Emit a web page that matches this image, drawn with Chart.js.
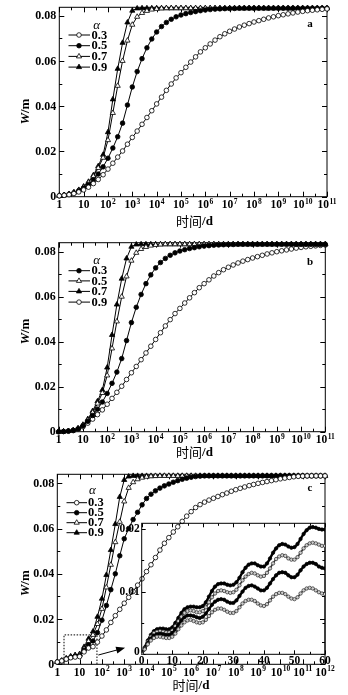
<!DOCTYPE html>
<html>
<head>
<meta charset="utf-8">
<script src="https://cdn.jsdelivr.net/npm/chart.js@4.4.1/dist/chart.umd.min.js"></script>
<style>
  html, body { margin: 0; padding: 0; background: #fff; }
  #fig { position: relative; width: 348px; height: 695px; overflow: hidden; background: #fff; }
  #fig canvas { position: absolute; }
</style>
</head>
<body>
<div id="fig">
  <canvas id="panelA" width="348" height="230" style="left:0;top:0"></canvas>
  <canvas id="panelB" width="348" height="230" style="left:0;top:230px"></canvas>
  <canvas id="panelC" width="348" height="235" style="left:0;top:460px"></canvas>
  <canvas id="inset" width="248" height="155" style="left:100px;top:515px"></canvas>
</div>
<script>
// W(t) curves sampled every 0.2 decade of time (t = 1 d ... 10^11 d, or 10^12 d for panel c)
const aW03 = [0.0004,0.0006,0.0009,0.0014,0.0021,0.0030,0.0042,0.0058,0.0076,0.0097,
  0.0122,0.0148,0.0175,0.0202,0.0232,0.0262,0.0290,0.0320,0.0350,0.0380,
  0.0410,0.0440,0.0470,0.0498,0.0525,0.0548,0.0572,0.0595,0.0618,0.0640,
  0.0658,0.0675,0.0692,0.0707,0.0720,0.0731,0.0741,0.0750,0.0758,0.0765,
  0.0772,0.0778,0.0784,0.0790,0.0795,0.0800,0.0804,0.0808,0.0812,0.0816,
  0.0819,0.0822,0.0824,0.0826,0.0828,0.0830];
const aW05 = [0.0004,0.0007,0.0011,0.0017,0.0026,0.0038,0.0054,0.0075,0.0100,0.0132,
  0.0170,0.0215,0.0265,0.0325,0.0405,0.0485,0.0553,0.0610,0.0658,0.0697,
  0.0728,0.0752,0.0770,0.0784,0.0795,0.0803,0.0809,0.0814,0.0818,0.0822,
  0.0825,0.0827,0.0829,0.0830,0.0831,0.0832,0.0832,0.0833,0.0833,0.0833,
  0.0833,0.0833,0.0833,0.0833,0.0833,0.0833,0.0833,0.0833,0.0833,0.0833,
  0.0833,0.0833,0.0833,0.0833,0.0833,0.0833];
const aW07 = [0.0004,0.0007,0.0012,0.0019,0.0029,0.0043,0.0063,0.0090,0.0127,0.0172,
  0.0250,0.0370,0.0490,0.0600,0.0690,0.0760,0.0795,0.0812,0.0821,0.0827,
  0.0830,0.0832,0.0833,0.0833,0.0833,0.0833,0.0833,0.0833,0.0833,0.0833,
  0.0833,0.0833,0.0833,0.0833,0.0833,0.0833,0.0833,0.0833,0.0833,0.0833,
  0.0833,0.0833,0.0833,0.0833,0.0833,0.0833,0.0833,0.0833,0.0833,0.0833,
  0.0833,0.0833,0.0833,0.0833,0.0833,0.0833];
const aW09 = [0.0004,0.0007,0.0012,0.0019,0.0030,0.0045,0.0066,0.0095,0.0135,0.0185,
  0.0285,0.0430,0.0565,0.0680,0.0770,0.0822,0.0832,0.0833,0.0833,0.0833,
  0.0833,0.0833,0.0833,0.0833,0.0833,0.0833,0.0833,0.0833,0.0833,0.0833,
  0.0833,0.0833,0.0833,0.0833,0.0833,0.0833,0.0833,0.0833,0.0833,0.0833,
  0.0833,0.0833,0.0833,0.0833,0.0833,0.0833,0.0833,0.0833,0.0833,0.0833,
  0.0833,0.0833,0.0833,0.0833,0.0833,0.0833];

const bW09 = [0.0000,0.0001,0.0002,0.0005,0.0011,0.0022,0.0038,0.0056,0.0076,0.0097,
  0.0122,0.0148,0.0175,0.0202,0.0232,0.0262,0.0290,0.0320,0.0350,0.0380,
  0.0410,0.0440,0.0470,0.0498,0.0525,0.0548,0.0572,0.0595,0.0618,0.0640,
  0.0658,0.0675,0.0692,0.0707,0.0720,0.0731,0.0741,0.0750,0.0758,0.0765,
  0.0772,0.0778,0.0784,0.0790,0.0795,0.0800,0.0804,0.0808,0.0812,0.0816,
  0.0819,0.0822,0.0824,0.0826,0.0828,0.0830];
const bW03 = [0.0000,0.0001,0.0003,0.0006,0.0013,0.0026,0.0046,0.0072,0.0100,0.0132,
  0.0170,0.0215,0.0265,0.0325,0.0405,0.0485,0.0553,0.0610,0.0658,0.0697,
  0.0728,0.0752,0.0770,0.0784,0.0795,0.0803,0.0809,0.0814,0.0818,0.0822,
  0.0825,0.0827,0.0829,0.0830,0.0831,0.0832,0.0832,0.0833,0.0833,0.0833,
  0.0833,0.0833,0.0833,0.0833,0.0833,0.0833,0.0833,0.0833,0.0833,0.0833,
  0.0833,0.0833,0.0833,0.0833,0.0833,0.0833];
const bW05 = [0.0000,0.0001,0.0003,0.0006,0.0014,0.0029,0.0052,0.0085,0.0125,0.0172,
  0.0250,0.0370,0.0490,0.0600,0.0690,0.0760,0.0795,0.0812,0.0821,0.0827,
  0.0830,0.0832,0.0833,0.0833,0.0833,0.0833,0.0833,0.0833,0.0833,0.0833,
  0.0833,0.0833,0.0833,0.0833,0.0833,0.0833,0.0833,0.0833,0.0833,0.0833,
  0.0833,0.0833,0.0833,0.0833,0.0833,0.0833,0.0833,0.0833,0.0833,0.0833,
  0.0833,0.0833,0.0833,0.0833,0.0833,0.0833];
const bW07 = [0.0000,0.0001,0.0003,0.0007,0.0015,0.0031,0.0056,0.0092,0.0135,0.0185,
  0.0285,0.0430,0.0565,0.0680,0.0770,0.0822,0.0832,0.0833,0.0833,0.0833,
  0.0833,0.0833,0.0833,0.0833,0.0833,0.0833,0.0833,0.0833,0.0833,0.0833,
  0.0833,0.0833,0.0833,0.0833,0.0833,0.0833,0.0833,0.0833,0.0833,0.0833,
  0.0833,0.0833,0.0833,0.0833,0.0833,0.0833,0.0833,0.0833,0.0833,0.0833,
  0.0833,0.0833,0.0833,0.0833,0.0833,0.0833];

const cW03 = [0.0010,0.0015,0.0023,0.0029,0.0032,0.0034,0.0055,0.0072,0.0078,0.0098,
  0.0125,0.0152,0.0185,0.0215,0.0243,0.0270,0.0296,0.0322,0.0350,0.0378,
  0.0410,0.0440,0.0472,0.0505,0.0535,0.0560,0.0585,0.0608,0.0632,0.0655,
  0.0675,0.0693,0.0706,0.0717,0.0726,0.0734,0.0742,0.0750,0.0757,0.0765,
  0.0772,0.0778,0.0784,0.0790,0.0795,0.0800,0.0804,0.0808,0.0812,0.0816,
  0.0820,0.0823,0.0826,0.0829,0.0831,0.0832,0.0833,0.0833,0.0833,0.0833,0.0833];
const cW05 = [0.0010,0.0015,0.0024,0.0031,0.0035,0.0038,0.0062,0.0086,0.0103,0.0140,
  0.0195,0.0260,0.0330,0.0400,0.0480,0.0555,0.0600,0.0640,0.0672,0.0705,
  0.0733,0.0752,0.0767,0.0779,0.0789,0.0797,0.0805,0.0812,0.0818,0.0823,
  0.0827,0.0830,0.0832,0.0833,0.0833,0.0833,0.0833,0.0833,0.0833,0.0833,
  0.0833,0.0833,0.0833,0.0833,0.0833,0.0833,0.0833,0.0833,0.0833,0.0833,
  0.0833,0.0833,0.0833,0.0833,0.0833,0.0833,0.0833,0.0833,0.0833,0.0833,0.0833];
const cW07 = [0.0010,0.0016,0.0025,0.0033,0.0038,0.0042,0.0069,0.0102,0.0130,0.0178,
  0.0245,0.0340,0.0440,0.0540,0.0630,0.0720,0.0780,0.0805,0.0818,0.0825,
  0.0829,0.0831,0.0832,0.0833,0.0833,0.0833,0.0833,0.0833,0.0833,0.0833,
  0.0833,0.0833,0.0833,0.0833,0.0833,0.0833,0.0833,0.0833,0.0833,0.0833,
  0.0833,0.0833,0.0833,0.0833,0.0833,0.0833,0.0833,0.0833,0.0833,0.0833,
  0.0833,0.0833,0.0833,0.0833,0.0833,0.0833,0.0833,0.0833,0.0833,0.0833,0.0833];
const cW09 = [0.0010,0.0016,0.0026,0.0035,0.0041,0.0045,0.0077,0.0113,0.0145,0.0210,
  0.0290,0.0395,0.0505,0.0620,0.0740,0.0815,0.0830,0.0833,0.0833,0.0833,
  0.0833,0.0833,0.0833,0.0833,0.0833,0.0833,0.0833,0.0833,0.0833,0.0833,
  0.0833,0.0833,0.0833,0.0833,0.0833,0.0833,0.0833,0.0833,0.0833,0.0833,
  0.0833,0.0833,0.0833,0.0833,0.0833,0.0833,0.0833,0.0833,0.0833,0.0833,
  0.0833,0.0833,0.0833,0.0833,0.0833,0.0833,0.0833,0.0833,0.0833,0.0833,0.0833];

// early-time detail for panel c, t = 0 ... 60 d in 1 d steps
const insetW09 = [0,0.0011,0.0022,0.0031,0.0037,0.0040,0.0041,0.0041,0.0040,0.0040,
  0.0043,0.0050,0.0058,0.0066,0.0072,0.0075,0.0076,0.0076,0.0075,0.0075,
  0.0077,0.0083,0.0092,0.0101,0.0108,0.0112,0.0113,0.0113,0.0111,0.0110,
  0.0111,0.0115,0.0122,0.0131,0.0138,0.0143,0.0145,0.0145,0.0142,0.0140,
  0.0140,0.0145,0.0153,0.0162,0.0169,0.0174,0.0176,0.0175,0.0172,0.0170,
  0.0171,0.0176,0.0184,0.0192,0.0198,0.0202,0.0203,0.0202,0.0200,0.0199,0.0199];
const insetW07 = [0,0.0010,0.0020,0.0028,0.0034,0.0036,0.0037,0.0036,0.0035,0.0035,
  0.0038,0.0045,0.0053,0.0060,0.0066,0.0069,0.0070,0.0069,0.0067,0.0067,
  0.0069,0.0075,0.0083,0.0091,0.0097,0.0101,0.0102,0.0101,0.0099,0.0098,
  0.0099,0.0103,0.0110,0.0118,0.0124,0.0128,0.0130,0.0129,0.0126,0.0124,
  0.0125,0.0130,0.0137,0.0145,0.0152,0.0156,0.0158,0.0157,0.0153,0.0151,
  0.0151,0.0155,0.0162,0.0169,0.0174,0.0177,0.0178,0.0177,0.0175,0.0173,0.0173];
const insetW05 = [0,0.0009,0.0018,0.0025,0.0030,0.0032,0.0033,0.0032,0.0031,0.0031,
  0.0034,0.0040,0.0047,0.0054,0.0059,0.0062,0.0062,0.0061,0.0059,0.0058,
  0.0060,0.0065,0.0072,0.0079,0.0084,0.0087,0.0088,0.0087,0.0084,0.0082,
  0.0082,0.0086,0.0093,0.0100,0.0106,0.0109,0.0110,0.0108,0.0105,0.0102,
  0.0102,0.0106,0.0113,0.0120,0.0126,0.0130,0.0131,0.0130,0.0126,0.0123,
  0.0123,0.0127,0.0134,0.0140,0.0144,0.0146,0.0146,0.0144,0.0140,0.0138,0.0137];
const insetW03 = [0,0.0008,0.0016,0.0022,0.0026,0.0028,0.0028,0.0027,0.0026,0.0026,
  0.0028,0.0033,0.0040,0.0046,0.0051,0.0054,0.0055,0.0053,0.0051,0.0050,
  0.0051,0.0055,0.0061,0.0067,0.0071,0.0073,0.0073,0.0071,0.0068,0.0066,
  0.0066,0.0069,0.0075,0.0081,0.0085,0.0087,0.0087,0.0085,0.0081,0.0078,
  0.0077,0.0080,0.0086,0.0092,0.0096,0.0098,0.0098,0.0096,0.0092,0.0089,
  0.0088,0.0091,0.0097,0.0102,0.0105,0.0106,0.0105,0.0102,0.0099,0.0097,0.0096];

// axis ticks and labels
const decadesAB = [0,1,2,3,4,5,6,7,8,9,10,11];
const decadesC = [0,1,2,3,4,5,6,7,8,9,10,11,12];
const yTickVals = [0, 0.02, 0.04, 0.06, 0.08];
const yTickText = ['0', '0.02', '0.04', '0.06', '0.08'];
const yMinorVals = [0.01, 0.03, 0.05, 0.07];
const insetXVals = [0, 10, 20, 30, 40, 50, 60];
const insetXText = ['0', '10', '20', '30', '40', '50', '60'];
const insetYVals = [0, 0.01, 0.02];
const insetYText = ['0', '0.01', '0.02'];
const alphaText = ['0.3', '0.5', '0.7', '0.9'];

const SERIF = '"Liberation Serif", "DejaVu Serif", serif';
const CJK = '"Noto Sans CJK SC", "Noto Sans CJK JP", sans-serif';
const OPEN_CIRCLE = { shape: 'circle', filled: false };
const FILLED_CIRCLE = { shape: 'circle', filled: true };
const OPEN_TRI = { shape: 'triangle', filled: false };
const FILLED_TRI = { shape: 'triangle', filled: true };

function logSeries(label, ys, mark) {
  return {
    label,
    data: ys.map((v, i) => ({ x: i * 0.2, y: v })),
    borderColor: '#000',
    borderWidth: 1,
    pointStyle: mark.shape,
    pointRadius: mark.shape === 'triangle' ? 3 : 2.3,
    pointBorderWidth: 0.8,
    pointBackgroundColor: mark.filled ? '#000' : '#fff',
    pointBorderColor: '#000',
    tension: 0,
    clip: false
  };
}

function drawPower(ctx, k, cx, top) {
  const base = k === 0 ? '1' : '10';
  const sup = k >= 2 ? String(k) : '';
  ctx.font = 'bold 11.5px ' + SERIF;
  const wb = ctx.measureText(base).width;
  ctx.font = 'bold 7.5px ' + SERIF;
  const ws = sup ? ctx.measureText(sup).width + 0.5 : 0;
  const x0 = cx - (wb + ws) / 2;
  const baseY = top + 8.5;
  ctx.textAlign = 'left';
  ctx.textBaseline = 'alphabetic';
  ctx.font = 'bold 11.5px ' + SERIF;
  ctx.fillText(base, x0, baseY);
  if (sup) {
    ctx.font = 'bold 7.5px ' + SERIF;
    ctx.fillText(sup, x0 + wb + 0.5, baseY - 4.5);
  }
}

function drawTicks(ctx, a, sx, sy, xt, yt) {
  ctx.beginPath();
  for (const [v, len] of xt) {
    const px = Math.round(sx.getPixelForValue(v)) + 0.5;
    ctx.moveTo(px, a.bottom); ctx.lineTo(px, a.bottom - len);
    ctx.moveTo(px, a.top); ctx.lineTo(px, a.top + len);
  }
  for (const [v, len] of yt) {
    const py = Math.round(sy.getPixelForValue(v)) + 0.5;
    ctx.moveTo(a.left, py); ctx.lineTo(a.left + len, py);
    ctx.moveTo(a.right, py); ctx.lineTo(a.right - len, py);
  }
  ctx.stroke();
}

// frame, inward ticks, labels, legend and panel letter for a main panel
function makeDecor(cfg) {
  return {
    id: 'decor',
    beforeDatasetsDraw(chart) {
      const { ctx, chartArea: a } = chart;
      const sx = chart.scales.x, sy = chart.scales.y;
      ctx.save();
      ctx.strokeStyle = '#000';
      ctx.lineWidth = 1;
      ctx.strokeRect(a.left, a.top, a.right - a.left, a.bottom - a.top);
      const xt = cfg.decades.map(d => [d, 5]).concat(cfg.decades.slice(1).map(d => [d - 0.5, 3]));
      const yt = yTickVals.map(v => [v, 5]).concat(yMinorVals.map(v => [v, 3]));
      drawTicks(ctx, a, sx, sy, xt, yt);
      if (cfg.box) {
        ctx.setLineDash([1.5, 1.5]);
        const x0 = sx.getPixelForValue(cfg.box.x0), x1 = sx.getPixelForValue(cfg.box.x1);
        const y1 = sy.getPixelForValue(cfg.box.y1), yb = sy.getPixelForValue(0);
        ctx.beginPath();
        ctx.moveTo(x0, yb); ctx.lineTo(x0, y1); ctx.lineTo(x1, y1); ctx.lineTo(x1, yb);
        ctx.stroke();
        ctx.setLineDash([]);
        const p0 = [sx.getPixelForValue(cfg.arrow.from[0]), sy.getPixelForValue(cfg.arrow.from[1])];
        const p1 = [sx.getPixelForValue(cfg.arrow.to[0]), sy.getPixelForValue(cfg.arrow.to[1])];
        const ang = Math.atan2(p1[1] - p0[1], p1[0] - p0[0]);
        ctx.beginPath();
        ctx.moveTo(p0[0], p0[1]); ctx.lineTo(p1[0] - 7 * Math.cos(ang), p1[1] - 7 * Math.sin(ang));
        ctx.stroke();
        ctx.beginPath();
        ctx.moveTo(p1[0], p1[1]);
        ctx.lineTo(p1[0] - 9 * Math.cos(ang) + 3.5 * Math.sin(ang), p1[1] - 9 * Math.sin(ang) - 3.5 * Math.cos(ang));
        ctx.lineTo(p1[0] - 9 * Math.cos(ang) - 3.5 * Math.sin(ang), p1[1] - 9 * Math.sin(ang) + 3.5 * Math.cos(ang));
        ctx.closePath();
        ctx.fillStyle = '#000';
        ctx.fill();
      }
      ctx.restore();
    },
    afterDatasetsDraw(chart) {
      const { ctx, chartArea: a } = chart;
      const sx = chart.scales.x, sy = chart.scales.y;
      ctx.save();
      ctx.fillStyle = '#000';
      // y tick labels
      ctx.font = 'bold 12px ' + SERIF;
      ctx.textAlign = 'right';
      ctx.textBaseline = 'middle';
      yTickVals.forEach((v, i) => ctx.fillText(yTickText[i], a.left - 3, sy.getPixelForValue(v) + 0.5));
      // x tick labels, powers of ten
      cfg.decades.forEach(d => drawPower(ctx, d, sx.getPixelForValue(d), a.bottom + 3));
      // axis titles
      ctx.textBaseline = 'middle';
      ctx.textAlign = 'left';
      ctx.font = '13px ' + CJK;
      const wCjk = ctx.measureText('时间').width;
      ctx.font = 'bold 13px ' + SERIF;
      const wUnit = ctx.measureText('/d').width;
      const tx = cfg.xTitle[0] - (wCjk + wUnit) / 2;
      ctx.font = '13px ' + CJK;
      ctx.fillText('时间', tx, cfg.xTitle[1]);
      ctx.font = 'bold 13px ' + SERIF;
      ctx.fillText('/d', tx + wCjk, cfg.xTitle[1] + 0.5);
      ctx.save();
      ctx.translate(cfg.yTitle[0], cfg.yTitle[1]);
      ctx.rotate(-Math.PI / 2);
      ctx.font = 'italic bold 13px ' + SERIF;
      ctx.textAlign = 'right';
      ctx.fillText('W', -3, 0);
      ctx.font = 'bold 13px ' + SERIF;
      ctx.textAlign = 'left';
      ctx.fillText('/m', -3, 0);
      ctx.restore();
      // panel letter
      ctx.font = 'bold 11px ' + SERIF;
      ctx.textAlign = 'center';
      ctx.fillText(cfg.letter, cfg.letterAt[0], cfg.letterAt[1]);
      // legend
      const lg = cfg.legend;
      ctx.font = 'italic 13px ' + SERIF;
      ctx.fillText('α', lg.alpha[0], lg.alpha[1]);
      ctx.font = 'bold 12.5px ' + SERIF;
      ctx.textAlign = 'left';
      chart.data.datasets.forEach((ds, i) => {
        const y = lg.rows[i];
        ctx.strokeStyle = '#000';
        ctx.lineWidth = 1;
        ctx.beginPath();
        ctx.moveTo(lg.x0, y); ctx.lineTo(lg.x1, y);
        ctx.stroke();
        ctx.fillStyle = ds.pointBackgroundColor;
        ctx.lineWidth = ds.pointBorderWidth;
        Chart.helpers.drawPoint(ctx, {
          pointStyle: ds.pointStyle, radius: ds.pointRadius, borderWidth: ds.pointBorderWidth, rotation: 0
        }, lg.mx, y);
        ctx.fillStyle = '#000';
        ctx.fillText(ds.label, lg.tx, y + 0.5);
      });
      ctx.restore();
    }
  };
}

function mainPanel(id, cfg, datasets) {
  return new Chart(document.getElementById(id), {
    type: 'line',
    data: { datasets },
    options: {
      responsive: false,
      animation: false,
      devicePixelRatio: 1,
      layout: { padding: cfg.pad },
      scales: {
        x: { type: 'linear', display: false, min: 0, max: cfg.decades[cfg.decades.length - 1] },
        y: { type: 'linear', display: false, min: 0, max: cfg.yMax }
      },
      plugins: { legend: { display: false }, tooltip: { enabled: false } }
    },
    plugins: [makeDecor(cfg)]
  });
}

mainPanel('panelA', {
  decades: decadesAB, yMax: 0.0837,
  pad: { left: 59.3, top: 7.3, right: 21, bottom: 33.3 },
  xTitle: [194.5, 221], yTitle: [26, 110],
  letter: 'a', letterAt: [310, 24],
  legend: { alpha: [96.7, 25.5], rows: [35, 45.7, 56.4, 67.1], x0: 68.5, x1: 90, mx: 79, tx: 91.5 }
}, [
  logSeries(alphaText[0], aW03, OPEN_CIRCLE),
  logSeries(alphaText[1], aW05, FILLED_CIRCLE),
  logSeries(alphaText[2], aW07, OPEN_TRI),
  logSeries(alphaText[3], aW09, FILLED_TRI)
]);

mainPanel('panelB', {
  decades: decadesAB, yMax: 0.0840,
  pad: { left: 58.7, top: 12.7, right: 22.7, bottom: 28.3 },
  xTitle: [194.5, 221.7], yTitle: [26, 100],
  letter: 'b', letterAt: [310, 31.7],
  legend: { alpha: [96.7, 30.7], rows: [40.7, 50.9, 61.4, 72.1], x0: 68.5, x1: 90, mx: 79, tx: 91.5 }
}, [
  logSeries(alphaText[0], bW03, FILLED_CIRCLE),
  logSeries(alphaText[1], bW05, OPEN_TRI),
  logSeries(alphaText[2], bW07, FILLED_TRI),
  logSeries(alphaText[3], bW09, OPEN_CIRCLE)
]);

mainPanel('panelC', {
  decades: decadesC, yMax: 0.0840,
  pad: { left: 57.3, top: 14.3, right: 23, bottom: 30.7 },
  xTitle: [191, 225], yTitle: [26, 121.7],
  letter: 'c', letterAt: [310, 28],
  legend: { alpha: [92.3, 30.7], rows: [42.7, 52.7, 62.7, 72.7], x0: 66.5, x1: 87, mx: 76.7, tx: 88 },
  box: { x0: Math.log10(2), x1: Math.log10(60), y1: 0.013 },
  arrow: { from: [1.84, 0.0041], to: [3.04, 0.0073] }
}, [
  logSeries(alphaText[0], cW03, OPEN_CIRCLE),
  logSeries(alphaText[1], cW05, FILLED_CIRCLE),
  logSeries(alphaText[2], cW07, OPEN_TRI),
  logSeries(alphaText[3], cW09, FILLED_TRI)
]);

// inset: linear time axis 0-60 d
function insetSeries(label, ys, filled) {
  return {
    label,
    data: ys.map((v, t) => ({ x: t, y: v })),
    borderColor: filled ? '#000' : '#3a3a3a',
    borderWidth: filled ? 2.4 : 1.6,
    pointStyle: 'circle',
    pointRadius: 1.7,
    pointBorderWidth: 0.7,
    pointBackgroundColor: filled ? '#000' : '#cfcfcf',
    pointBorderColor: filled ? '#000' : '#2a2a2a',
    tension: 0.35
  };
}

const insetDecor = {
  id: 'insetDecor',
  beforeDatasetsDraw(chart) {
    const { ctx, chartArea: a } = chart;
    const sx = chart.scales.x, sy = chart.scales.y;
    ctx.save();
    ctx.strokeStyle = '#000';
    ctx.lineWidth = 1;
    ctx.strokeRect(a.left, a.top, a.right - a.left, a.bottom - a.top);
    const xt = insetXVals.map(v => [v, 4]).concat(insetXVals.slice(1).map(v => [v - 5, 2.5]));
    const yt = [[0, 4], [0.005, 2.5], [0.01, 4], [0.015, 2.5], [0.02, 4]];
    drawTicks(ctx, a, sx, sy, xt, yt);
    ctx.restore();
  },
  afterDatasetsDraw(chart) {
    const { ctx, chartArea: a } = chart;
    const sx = chart.scales.x, sy = chart.scales.y;
    ctx.save();
    ctx.fillStyle = '#000';
    ctx.font = 'bold 11.5px ' + SERIF;
    ctx.textAlign = 'right';
    ctx.textBaseline = 'middle';
    insetYVals.forEach((v, i) => ctx.fillText(insetYText[i], a.left - 2, sy.getPixelForValue(v) - (v === 0 ? 2 : 0)));
    ctx.textAlign = 'center';
    ctx.textBaseline = 'top';
    insetXVals.forEach((v, i) => ctx.fillText(insetXText[i], sx.getPixelForValue(v), a.bottom + 0.5));
    ctx.restore();
  }
};

new Chart(document.getElementById('inset'), {
  type: 'line',
  data: {
    datasets: [
      insetSeries(alphaText[0], insetW03, false),
      insetSeries(alphaText[1], insetW05, true),
      insetSeries(alphaText[2], insetW07, false),
      insetSeries(alphaText[3], insetW09, true)
    ]
  },
  options: {
    responsive: false,
    animation: false,
    devicePixelRatio: 1,
    layout: { padding: { left: 41.7, top: 8.3, right: 23, bottom: 15.7 } },
    scales: {
      x: { type: 'linear', display: false, min: 0, max: 60 },
      y: { type: 'linear', display: false, min: 0, max: 0.0209 }
    },
    plugins: { legend: { display: false }, tooltip: { enabled: false } }
  },
  plugins: [insetDecor]
});
</script>
</body>
</html>
